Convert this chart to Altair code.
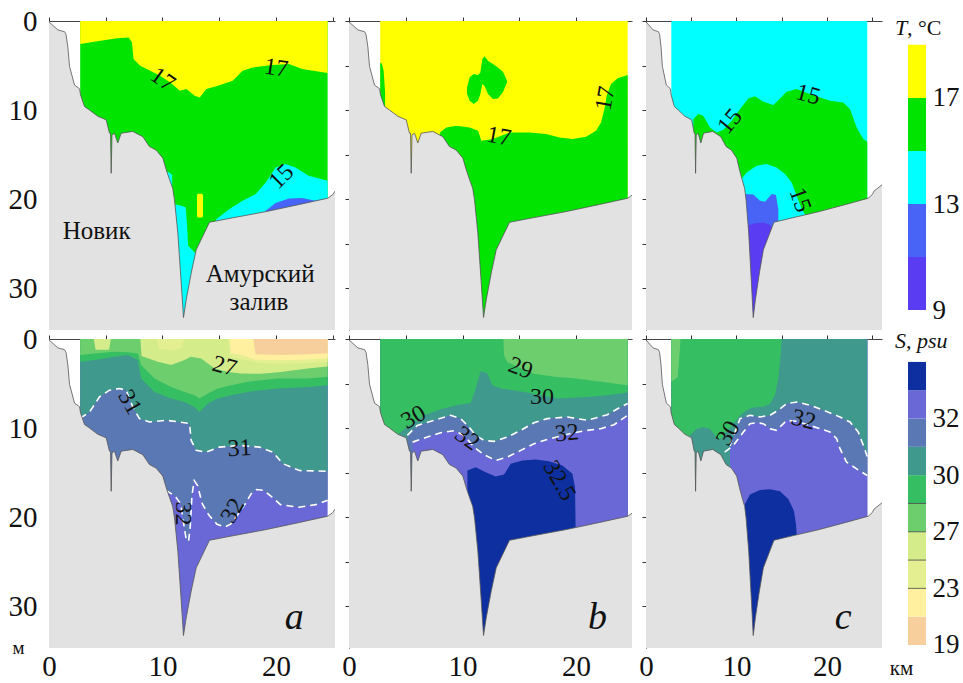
import altair as alt
import pandas as pd

FONT = "Liberation Serif"
INK = "#111111"
LAND = "#e2e2e2"
B = 34.7  # depth (m) at the bottom edge of every section

# x-axis extents (km) of the three sections
XMAX_A = 25.2
XMAX_B = 24.93
XMAX_C = 26.08

# ---------------- colour scales ----------------
T_LEVELS = [9, 11, 13, 15, 17, 19]
T_COLORS = ["#5a3cf2", "#4864f6", "#00ffff", "#00e400", "#ffff00"]
S_LEVELS = [19, 21, 23, 25, 27, 29, 30, 31, 32, 32.5, 33]
S_COLORS = ["#f6cf9c", "#fff0a0", "#e3ef91", "#d5ec8a", "#6dce6e",
            "#36bf62", "#3f998d", "#5a78b3", "#6a68d6", "#0e2f9f"]
S_RULES = [23, 25, 27, 29]  # band edges drawn with a thin dark line in the S bar
TC = dict(zip(T_LEVELS[:-1], T_COLORS))
SC = dict(zip(S_LEVELS[:-1], S_COLORS))

# ---------------- bottom profile (km, m) ----------------
BATH_X = [0.0, 0.78, 1.37, 1.5, 1.66, 1.81, 2.25, 2.69, 2.78, 3.13, 3.57, 4.3, 5.04, 5.33,
          5.42, 5.48, 5.55, 5.77, 6.06, 6.36, 7.38, 8.27, 8.85, 9.44, 10.03, 10.33, 10.62,
          10.9, 11.06, 11.35, 11.65, 11.85, 12.09, 12.53, 12.97, 14.14, 16.19, 19.14, 22.07,
          24.56, 25.0, 25.2, 26.2]
BATH_D = [0.1, 1.0, 1.2, 1.5, 2.9, 5.1, 7.2, 7.6, 8.3, 9.6, 10.0, 10.7, 11.1, 12.6,
          12.6, 17.1, 12.8, 12.6, 13.7, 12.6, 12.4, 13.0, 14.1, 14.5, 15.4, 16.7, 17.8,
          18.8, 20.1, 23.8, 29.4, 33.3, 31.3, 28.3, 25.7, 22.6, 22.1, 21.4, 20.6,
          19.9, 19.5, 19.1, 18.3]
WATER_AB = [2.75, 24.55]
WATER_C = [2.8, 24.45]

# ---------------- temperature, section a ----------------
TA_17_X = [2.75, 4.54, 6.0, 7.02, 7.31, 7.45, 8.03, 8.91, 9.78, 10.66, 11.53, 12.11, 12.84,
           13.28, 13.86, 14.73, 16.19, 17.06, 17.93, 19.68, 21.14, 22.3, 24.55]
TA_17_D = [2.58, 2.21, 1.95, 1.84, 2.4, 4.27, 5.02, 5.58, 6.14, 6.89, 7.83, 7.64, 8.39,
           8.58, 7.64, 7.34, 6.7, 5.58, 5.21, 4.94, 4.83, 5.39, 5.84]
TA_15_X = [14.73, 15.9, 17.06, 18.22, 19.1, 19.97, 20.84, 21.72, 22.88, 24.55]
TA_15_D = [22.25, 21.12, 20.19, 19.44, 18.13, 16.44, 16.07, 16.44, 17.38, 17.94]
TA_13_X = [19.1, 19.97, 21.14, 22.3, 23.46, 24.55]
TA_13_D = [21.31, 20.45, 19.93, 19.89, 20.19, 19.93]
TA_PIT15_X = [10.95, 11.67, 12.05, 12.17, 12.26, 12.69, 13.13]
TA_PIT15_D = [20.56, 20.75, 20.94, 23.0, 25.24, 25.8, 26.4]
TA_SLOPE15_X = [10.35, 10.6, 10.85]
TA_SLOPE15_D = [16.9, 17.0, 17.3]
TA_WARM_X = [13.04, 13.1, 13.5, 13.57]
TA_WARM_TOP = [19.6, 19.4, 19.4, 19.6]
TA_WARM_BOT = [21.9, 22.06, 22.06, 21.9]

# ---------------- temperature, section b ----------------
TB_17_X = [8.0, 8.58, 9.46, 10.63, 11.37, 11.66, 12.68, 14.15, 15.9, 17.37, 18.54, 19.71,
           20.88, 21.76, 22.2, 22.5, 22.7, 23.08, 23.67, 24.55]
TB_17_D = [12.51, 11.95, 11.76, 11.95, 12.32, 13.45, 13.26, 12.51, 12.51, 12.7, 13.07, 13.26,
           13.0, 12.32, 11.39, 9.89, 8.39, 7.08, 6.44, 6.07]
TB_BLOB_X = [10.40, 10.63, 10.98, 11.37, 11.57, 11.75, 11.95, 12.24, 12.68, 13.12, 13.56, 13.86, 13.94]
TB_BLOB_TOP = [7.45, 6.33, 5.96, 6.07, 5.77, 4.27, 3.97, 4.46, 4.83, 5.21, 5.69, 6.52, 6.82]
TB_BLOB_BOT = [8.2, 8.95, 9.33, 8.95, 8.2, 7.08, 7.34, 8.2, 8.76, 8.69, 8.01, 7.08, 6.89]
TB_EDGE_X = [2.75, 2.9, 3.05, 3.18]
TB_EDGE_D = [4.7, 4.8, 5.6, 8.0]

# ---------------- temperature, section c ----------------
TC_15_X = [5.23, 5.78, 6.33, 7.07, 7.81, 8.55, 9.47, 10.39, 11.31, 12.04, 12.97, 14.07, 14.81,
           15.54, 16.65, 18.12, 20.33, 21.8, 22.54, 23.28, 24.01, 24.45]
TC_15_D = [11.01, 10.45, 10.64, 11.95, 12.51, 12.21, 11.2, 9.89, 8.69, 8.46, 9.06, 9.44, 8.69,
           7.94, 7.64, 8.2, 8.95, 9.14, 9.89, 11.95, 13.26, 13.56]
TC_POCKET_X = [10.39, 11.12, 12.23, 13.33, 14.44, 15.36, 16.1, 16.65, 17.2, 17.57]
TC_POCKET_D = [17.94, 17.0, 16.25, 16.07, 16.44, 17.19, 18.13, 19.63, 21.12, 21.69]
TC_13_X = [10.94, 11.86, 12.6, 13.15, 13.89, 14.36, 14.62]
TC_13_D = [19.44, 19.48, 20.19, 20.3, 19.44, 19.55, 21.12]
TC_11_X = [11.12, 12.04, 12.97, 13.7, 14.07]
TC_11_D = [23.0, 22.7, 22.62, 22.92, 23.37]

# ---------------- salinity, section a ----------------
SA_32_X = [2.75, 10.28, 10.3, 10.8, 11.2, 11.6, 11.9, 12.1, 12.3, 12.45, 12.6, 12.8, 13.1, 13.5,
           14.1, 14.8, 15.5, 16.0, 16.6, 17.3, 17.8, 18.3, 18.9, 19.6, 20.4, 22.0, 23.5, 24.55]
SA_32_D = [B, B, 17.0, 17.4, 17.8, 18.5, 21.0, 22.6, 22.7, 21.0, 17.5, 15.9, 16.5, 18.5,
           19.8, 20.8, 21.1, 20.8, 19.8, 18.5, 17.4, 16.9, 17.0, 17.7, 18.6, 18.9, 18.6, 18.1]
SA_31_X = [2.75, 3.57, 4.45, 5.33, 6.21, 6.8, 7.38, 7.97, 8.85, 10.33, 11.5, 12.38, 12.53,
           12.97, 13.85, 15.02, 16.78, 18.55, 19.72, 20.6, 22.07, 24.55]
SA_31_D = [8.9, 8.2, 6.5, 5.75, 5.56, 5.75, 7.63, 8.94, 9.32, 9.13, 9.32, 9.5, 11.39,
           12.51, 12.7, 12.14, 11.95, 12.14, 12.7, 14.0, 14.77, 14.85]
SA_30_X = [2.75, 4.01, 5.77, 6.95, 7.83, 8.12, 9.3, 10.77, 11.94, 12.82, 13.26, 14.0, 14.87,
           16.05, 17.52, 18.69, 20.16, 22.8, 24.55]
SA_30_D = [2.55, 2.37, 1.99, 1.8, 2.37, 4.43, 5.94, 6.69, 7.07, 7.63, 8.2, 7.25, 6.69,
           6.31, 5.94, 5.75, 5.56, 5.38, 5.19]
SA_29_D = [1.8, 1.62, 1.43, 1.5, 1.62, 2.93, 4.43, 5.38, 5.94, 6.31, 6.69, 6.13, 5.56,
           5.19, 4.81, 4.62, 4.43, 4.43, 4.25]
SA_27_X = [8.05, 8.15, 9.59, 10.77, 11.94, 12.5, 13.4, 14.6, 15.8, 16.9, 18.7, 20.4, 22.8, 24.55]
SA_27_D = [0, 1.9, 2.55, 2.93, 2.37, 2.0, 2.2, 3.3, 3.7, 3.87, 3.9, 3.7, 3.3, 3.1]
SA_POCKET_X = [3.95, 4.1, 5.3, 5.45]
SA_POCKET_D = [0, 1.2, 1.2, 0]
SA_25_X = [9.5, 9.7, 10.8, 11.7, 11.9, 15.8, 16.0, 17.0, 18.7, 20.4, 22.8, 24.55]
SA_25_D = [0, 1.1, 1.3, 1.0, 0, 0, 2.0, 2.3, 2.7, 2.8, 2.7, 2.6]
SA_23_X = [15.9, 16.0, 17.0, 18.1, 20.4, 22.8, 24.55]
SA_23_D = [0, 1.6, 1.8, 2.3, 2.4, 2.3, 2.2]
SA_21_X = [18.0, 18.2, 20.4, 22.8, 24.55]
SA_21_D = [0, 1.7, 1.8, 1.7, 1.6]

# ---------------- salinity, section b ----------------
SB_325_X = [2.75, 10.42, 10.43, 11.16, 12.04, 12.92, 13.66, 14.24, 15.27, 16.45, 17.62, 18.8,
            19.68, 19.91, 19.96, 19.98, 24.55]
SB_325_D = [B, B, 14.77, 14.39, 14.96, 15.45, 15.22, 14.02, 13.64, 13.53, 13.72, 14.2,
            15.14, 16.65, 20.97, B, B]
SB_32_X = [2.75, 5.55, 5.6, 6.9, 8.08, 9.25, 10.13, 11.01, 11.89, 12.92, 13.95, 15.13, 16.3,
           17.48, 18.65, 19.82, 21.0, 22.17, 23.35, 24.55]
SB_32_D = [B, B, 11.58, 11.01, 10.52, 10.3, 10.82, 12.13, 12.99, 13.64, 13.26, 12.51, 11.76,
           11.27, 10.9, 10.52, 10.26, 10.07, 9.62, 8.57]
SB_31_X = [2.75, 5.1, 5.14, 6.02, 7.49, 8.96, 9.84, 10.57, 11.16, 11.89, 12.78, 13.95, 15.13,
           16.3, 17.48, 19.24, 21.0, 22.76, 23.94, 24.55]
SB_31_D = [B, B, 10.82, 9.7, 9.13, 8.57, 8.94, 9.88, 10.82, 11.39, 11.5, 11.01, 10.26,
           9.4, 8.94, 8.76, 9.13, 8.5, 7.63, 7.25]
SB_30_X = [2.75, 4.35, 4.4, 5.0, 6.6, 8.08, 9.55, 10.72, 11.16, 11.6, 12.19, 12.63, 13.37,
           15.42, 18.35, 21.0, 22.76, 24.55]
SB_30_D = [B, B, 10.6, 10.0, 8.6, 7.9, 7.4, 7.2, 5.56, 3.6, 3.87, 5.19, 5.56,
           5.94, 6.69, 6.5, 6.31, 6.0]
SB_29_X = [13.6, 13.66, 13.95, 14.8, 16.3, 18.1, 19.8, 22.2, 24.55]
SB_29_D = [0, 1.8, 2.6, 3.1, 3.9, 4.25, 4.4, 4.8, 5.2]

# ---------------- salinity, section c ----------------
SC_325_X = [2.8, 10.93, 10.94, 11.49, 12.6, 13.7, 14.81, 15.72, 16.35, 16.57, 16.64, 16.66, 24.45]
SC_325_D = [B, B, 18.53, 17.47, 16.95, 16.87, 17.1, 17.96, 19.28, 20.78, 21.72, B, B]
SC_32_X = [2.8, 8.69, 8.7, 9.65, 10.76, 11.49, 12.23, 12.96, 13.7, 14.43, 14.99, 15.55, 16.65,
           17.76, 19.23, 20.33, 21.07, 21.44, 22.17, 23.28, 24.45]
SC_32_D = [B, B, 12.7, 11.95, 10.45, 9.51, 9.4, 9.51, 10.07, 10.26, 9.7, 9.13, 9.24,
           9.6, 10.07, 10.45, 11.2, 12.32, 13.83, 14.58, 15.33]
SC_31_X = [2.8, 9.27, 9.28, 10.39, 11.49, 12.59, 13.7, 14.62, 15.55, 16.65, 18.13, 19.6,
           21.44, 22.54, 23.46, 24.02, 24.45]
SC_31_D = [B, B, 12.0, 8.94, 8.57, 8.75, 8.57, 8.0, 7.25, 7.07, 7.44, 8.0,
           8.76, 9.32, 10.45, 11.95, 13.2]
SC_30_X = [2.8, 4.85, 4.86, 5.6, 6.33, 7.07, 7.62, 8.18, 9.28, 10.39, 11.12, 11.86, 12.96,
           13.7, 14.25, 14.62, 14.88, 14.99, 24.45]
SC_30_D = [B, B, 10.8, 10.07, 9.9, 10.07, 10.8, 11.3, 10.0, 8.6, 8.0, 7.7, 7.6,
           7.3, 6.31, 4.43, 1.8, 0, 0]
SC_29_X = [2.8, 3.5, 3.76, 3.8]
SC_29_D = [4.8, 4.3, 1.0, 0]

# ---------------- isoline labels (text, km, m, angle) ----------------
LAB_TA = (["17", "17", "15"], [10.0, 20.0, 20.5], [6.6, 5.3, 17.5], [35, 8, -45])
LAB_TB = (["17", "17"], [13.2, 22.6], [13.0, 8.7], [10, -80])
LAB_TC = (["15", "15", "15"], [9.3, 17.9, 17.0], [11.3, 8.3, 20.1], [-50, 15, 70])
LAB_SA = (["27", "31", "31", "32", "32"], [15.46, 7.1, 16.8, 11.8, 16.2],
          [3.1, 7.1, 12.3, 19.6, 19.3], [15, 60, -3, 90, -60])
LAB_SB = (["29", "30", "30", "32", "32", "32.5"], [15.1, 17.0, 5.7, 10.4, 19.2, 18.5],
          [3.3, 6.5, 8.8, 11.2, 10.6, 15.9], [20, 0, -30, 35, -5, 60])
LAB_SC = (["30", "32"], [9.1, 17.4], [10.6, 9.1], [-60, 15])
PLACE_TA = (["Новик", "Амурский", "залив"], [4.2, 18.6, 18.5], [23.6, 28.4, 31.6], [0, 0, 0])
LETTERS = ["a", "b", "c"]
LETTER_X = [21.6, 21.9, 21.8]
LETTER_D = 31.3


# ---------------- helpers ----------------
def xenc(dom, axis=None):
    return alt.X("x:Q", scale=alt.Scale(domain=[0, dom], nice=False, zero=False), axis=axis)


def yenc(field, axis=None):
    return alt.Y(f"{field}:Q", scale=alt.Scale(domain=[0, B], reverse=True, nice=False, zero=False),
                 axis=axis)


def band(xs, top, bot, color, dom):
    n = len(xs)
    t = list(top) if isinstance(top, (list, tuple)) else [top] * n
    b = list(bot) if isinstance(bot, (list, tuple)) else [bot] * n
    df = pd.DataFrame({"x": xs, "t": t, "b": b})
    return alt.Chart(df).mark_area(color=color, clip=True).encode(
        x=xenc(dom), y=yenc("t"), y2="b:Q")


def dashed(xs, ds, dom):
    df = pd.DataFrame({"x": xs, "t": ds})
    df = df[df["t"] < B]
    return alt.Chart(df).mark_line(color="white", strokeWidth=1.6, strokeDash=[7, 5], clip=True).encode(
        x=xenc(dom), y=yenc("t"))


def texts(spec, dom, size=24, style="normal"):
    s, xs, ds, angs = spec
    df = pd.DataFrame({"x": xs, "t": ds, "s": s, "a": [a % 360 for a in angs]})
    return alt.Chart(df).mark_text(font=FONT, fontSize=size, color=INK, fontStyle=style).encode(
        x=xenc(dom), y=yenc("t"), text="s:N", angle=alt.Angle("a:Q", scale=None))


TOP_AXIS = alt.Axis(orient="top", values=[0, 5, 10, 15, 20, 25], labels=False, ticks=True, tickSize=4,
                    tickColor="#333", domain=True, domainColor="#444", title=None, grid=False)


def bottom_axis(title=None):
    kw = dict(orient="bottom", values=[0, 10, 20], ticks=False, tickSize=0, domain=False,
              labelFontSize=29, labelPadding=4, labelFlush=False, grid=False)
    if title:
        kw.update(title=title, titleX=255, titleY=20, titleFontSize=21, titleFontWeight="normal",
                  titleAlign="center", titleBaseline="middle", titleAngle=0)
    else:
        kw.update(title=None)
    return alt.Axis(**kw)


def left_axis(labels, title=None):
    if labels:
        kw = dict(orient="left", values=[0, 10, 20, 30], ticks=False, tickSize=0, domain=False,
                  labelFontSize=29, labelPadding=12, labelFlush=False, grid=False)
        if title:
            kw.update(title=title, titleX=-31, titleY=308, titleAngle=0, titleFontSize=19,
                      titleFontWeight="normal", titleAlign="center", titleBaseline="middle")
        else:
            kw.update(title=None)
        return alt.Axis(**kw)
    return alt.Axis(orient="left", values=[0, 5, 10, 15, 20, 25, 30], labels=False, ticks=True,
                    tickSize=4, tickColor="#333", domain=True, domainColor="#333", title=None, grid=False)


def panel(dom, fills, lines, labels, yaxis, baxis):
    layers = list(fills)
    layers += [dashed(x, d, dom) for x, d in lines]
    land_df = pd.DataFrame({"x": BATH_X, "t": BATH_D, "b": [B] * len(BATH_X)})
    layers.append(alt.Chart(land_df).mark_area(color=LAND, clip=True).encode(
        x=xenc(dom, TOP_AXIS), y=yenc("t", yaxis), y2="b:Q"))
    layers.append(alt.Chart(land_df).mark_line(color="#555", strokeWidth=0.8, clip=True).encode(
        x=xenc(dom, baxis), y=yenc("t")))
    layers += labels
    return alt.layer(*layers).resolve_axis(x="independent", y="independent").properties(height=309)


# ---------------- temperature sections ----------------
ta = panel(XMAX_A, [
    band(WATER_AB, 0, B, TC[15], XMAX_A),
    band(TA_17_X, 0, TA_17_D, TC[17], XMAX_A),
    band(TA_15_X, TA_15_D, B, TC[13], XMAX_A),
    band(TA_13_X, TA_13_D, B, TC[11], XMAX_A),
    band(TA_PIT15_X, TA_PIT15_D, B, TC[13], XMAX_A),
    band(TA_SLOPE15_X, TA_SLOPE15_D, B, TC[13], XMAX_A),
    band(TA_WARM_X, TA_WARM_TOP, TA_WARM_BOT, TC[17], XMAX_A),
], [], [texts(LAB_TA, XMAX_A), texts(PLACE_TA, XMAX_A, size=25)],
    left_axis(True), None).properties(width=286)

tb = panel(XMAX_B, [
    band(WATER_AB, 0, B, TC[17], XMAX_B),
    band(TB_17_X, TB_17_D, B, TC[15], XMAX_B),
    band(TB_BLOB_X, TB_BLOB_TOP, TB_BLOB_BOT, TC[15], XMAX_B),
    band(TB_EDGE_X, TB_EDGE_D, B, TC[15], XMAX_B),
], [], [texts(LAB_TB, XMAX_B)], left_axis(False), None).properties(width=283)

tc = panel(XMAX_C, [
    band(WATER_C, 0, B, TC[13], XMAX_C),
    band(TC_15_X, TC_15_D, B, TC[15], XMAX_C),
    band(TC_POCKET_X, TC_POCKET_D, B, TC[13], XMAX_C),
    band(TC_13_X, TC_13_D, B, TC[11], XMAX_C),
    band(TC_11_X, TC_11_D, B, TC[9], XMAX_C),
], [], [texts(LAB_TC, XMAX_C)], left_axis(False), None).properties(width=236)

# ---------------- salinity sections ----------------
sa = panel(XMAX_A, [
    band(WATER_AB, 0, B, SC[32], XMAX_A),
    band(SA_32_X, 0, SA_32_D, SC[31], XMAX_A),
    band(SA_31_X, 0, SA_31_D, SC[30], XMAX_A),
    band(SA_30_X, 0, SA_30_D, SC[29], XMAX_A),
    band(SA_30_X, 0, SA_29_D, SC[27], XMAX_A),
    band(SA_27_X, 0, SA_27_D, SC[25], XMAX_A),
    band(SA_POCKET_X, 0, SA_POCKET_D, SC[25], XMAX_A),
    band(SA_25_X, 0, SA_25_D, SC[23], XMAX_A),
    band(SA_23_X, 0, SA_23_D, SC[21], XMAX_A),
    band(SA_21_X, 0, SA_21_D, SC[19], XMAX_A),
], [(SA_31_X, SA_31_D), (SA_32_X, SA_32_D)],
    [texts(LAB_SA, XMAX_A),
     texts(([LETTERS[0]], [LETTER_X[0]], [LETTER_D], [0]), XMAX_A, size=38, style="italic")],
    left_axis(True, "м"), bottom_axis()).properties(width=286)

sb = panel(XMAX_B, [
    band(WATER_AB, 0, B, SC[32.5], XMAX_B),
    band(SB_325_X, 0, SB_325_D, SC[32], XMAX_B),
    band(SB_32_X, 0, SB_32_D, SC[31], XMAX_B),
    band(SB_31_X, 0, SB_31_D, SC[30], XMAX_B),
    band(SB_30_X, 0, SB_30_D, SC[29], XMAX_B),
    band(SB_29_X, 0, SB_29_D, SC[27], XMAX_B),
], [(SB_31_X, SB_31_D), (SB_32_X, SB_32_D)],
    [texts(LAB_SB, XMAX_B),
     texts(([LETTERS[1]], [LETTER_X[1]], [LETTER_D], [0]), XMAX_B, size=38, style="italic")],
    left_axis(False), bottom_axis()).properties(width=283)

sc = panel(XMAX_C, [
    band(WATER_C, 0, B, SC[32.5], XMAX_C),
    band(SC_325_X, 0, SC_325_D, SC[32], XMAX_C),
    band(SC_32_X, 0, SC_32_D, SC[31], XMAX_C),
    band(SC_31_X, 0, SC_31_D, SC[30], XMAX_C),
    band(SC_30_X, 0, SC_30_D, SC[29], XMAX_C),
    band(SC_29_X, 0, SC_29_D, SC[27], XMAX_C),
], [(SC_31_X, SC_31_D), (SC_32_X, SC_32_D)],
    [texts(LAB_SC, XMAX_C),
     texts(([LETTERS[2]], [LETTER_X[2]], [LETTER_D], [0]), XMAX_C, size=38, style="italic")],
    left_axis(False), bottom_axis("км")).properties(width=236)


# ---------------- colour bars ----------------
def title_text(s, x, y, style):
    return alt.Chart(pd.DataFrame({"s": [s]})).mark_text(
        font=FONT, fontSize=22, color=INK, fontStyle=style, align="left", baseline="alphabetic"
    ).encode(text="s:N", x=alt.value(x), y=alt.value(y))


cbt_df = pd.DataFrame({"lo": T_LEVELS[:-1], "hi": T_LEVELS[1:], "c": T_COLORS})
cbT = alt.layer(
    alt.Chart(cbt_df).mark_rect().encode(
        y=alt.Y("lo:Q", scale=alt.Scale(domain=[8.25, 19.9], nice=False, zero=False),
                axis=alt.Axis(orient="right", values=[9, 13, 17], ticks=False, tickSize=0, domain=False,
                              labelFontSize=27, labelPadding=6, title=None, grid=False)),
        y2="hi:Q", x=alt.value(12), x2=alt.value(30), color=alt.Color("c:N", scale=None)),
    title_text("T", -1, 14, "italic"),
    title_text(", °C", 11, 14, "normal"),
).properties(width=30, height=309)

s_idx = list(range(len(S_COLORS)))
cbs_df = pd.DataFrame({"lo": s_idx, "hi": [i + 1 for i in s_idx], "c": S_COLORS})
rule_df = pd.DataFrame({"lo": [S_LEVELS.index(v) for v in S_RULES]})
s_lab = "[" + ",".join(f"'{v:g}'" for v in S_LEVELS) + "][datum.value]"
s_scale = alt.Scale(domain=[-0.106, 10.81], nice=False, zero=False)
cbS = alt.layer(
    alt.Chart(cbs_df).mark_rect().encode(
        y=alt.Y("lo:Q", scale=s_scale,
                axis=alt.Axis(orient="right", values=[0, 2, 4, 6, 8], labelExpr=s_lab, ticks=False,
                              tickSize=0, domain=False, labelFontSize=27, labelPadding=6,
                              title=None, grid=False)),
        y2="hi:Q", x=alt.value(12), x2=alt.value(30), color=alt.Color("c:N", scale=None)),
    alt.Chart(rule_df).mark_rule(color="#444", strokeWidth=0.8).encode(
        y=alt.Y("lo:Q", scale=s_scale, axis=None), x=alt.value(12), x2=alt.value(30)),
    title_text("S, psu", -1, 9, "italic"),
).resolve_axis(y="independent").properties(width=30, height=309)

chart = alt.concat(
    ta, tb, tc, cbT, sa, sb, sc, cbS, columns=4,
    spacing={"row": 9, "column": 14}, bounds="flush",
).properties(
    padding={"left": 8, "top": 7, "right": 0, "bottom": 0}
).configure_view(strokeWidth=0).configure_axis(
    labelFont=FONT, labelColor=INK, titleFont=FONT, titleColor=INK
)

chart.save("out.html", embed_options={"renderer": "svg", "actions": False})
